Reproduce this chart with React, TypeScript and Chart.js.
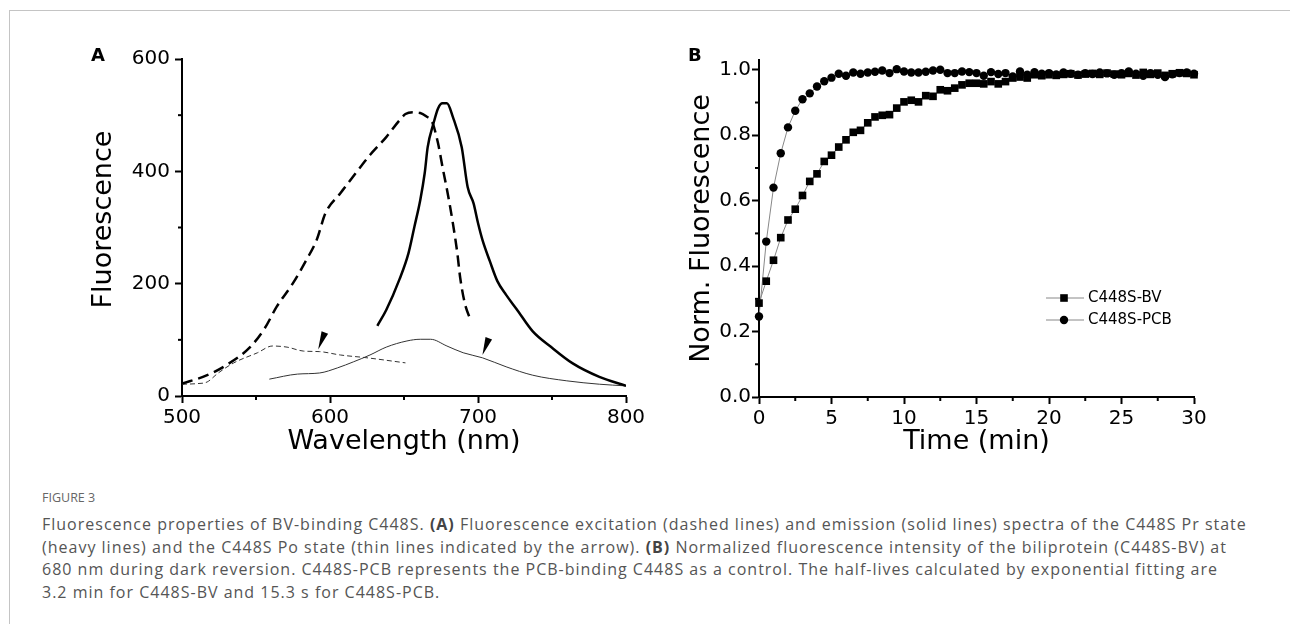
import React, { useEffect, useRef } from 'react';
import { Chart, registerables } from 'chart.js';

Chart.register(...registerables);

const FONT = '"DejaVu Sans", sans-serif';

// ---------- Panel A : spectra ----------
const EX_PR_NM = [500, 517, 530, 546, 556, 564, 575, 584, 591, 597, 607, 618, 627, 638, 647, 651, 656, 661, 665, 669, 673, 676, 680, 683, 686, 688, 691, 695];
const EX_PR_VAL = [22, 37, 55, 87, 121, 159, 201, 242, 278, 326, 361, 399, 429, 461, 491, 502, 505, 504, 498, 488, 450, 408, 354, 308, 255, 210, 166, 135];

const EM_PR_NM = [632, 638, 647, 653, 657, 661, 664, 666, 670, 673, 676, 679, 683, 689, 693, 697, 700, 703, 708, 713, 719, 726, 737, 749, 764, 782, 800];
const EM_PR_VAL = [125, 153, 208, 254, 301, 349, 397, 443, 486, 512, 521, 521, 497, 443, 372, 343, 308, 278, 240, 205, 180, 155, 115, 88, 58, 34, 18];

const EX_PO_NM = [500, 510, 517, 524, 535, 551, 561, 571, 582, 593, 607, 625, 651];
const EX_PO_VAL = [21, 22, 25, 40, 59, 77, 89, 87, 80, 79, 73, 68, 59];

const EM_PO_NM = [559, 578, 593, 605, 616, 627, 638, 652, 661, 668, 679, 690, 703, 719, 737, 760, 782, 800];
const EM_PO_VAL = [30, 39, 41, 50, 61, 73, 87, 98, 101, 101, 89, 77, 68, 52, 37, 27, 21, 18];

// arrow heads (tip and base centre) in data units
const ARROW_TIP_NM = [592, 703];
const ARROW_TIP_VAL = [83, 73];
const ARROW_BASE_NM = [596.5, 707.3];
const ARROW_BASE_VAL = [113, 103];

const A_X_MAJOR = [500, 600, 700, 800];
const A_X_MINOR = [550, 650, 750];
const A_Y_MAJOR = [0, 200, 400, 600];
const A_Y_MINOR = [100, 300, 500];

// ---------- Panel B : kinetics ----------
const B_TIME = [0, 0.5, 1, 1.5, 2, 2.5, 3, 3.5, 4, 4.5, 5, 5.5, 6, 6.5, 7, 7.5, 8, 8.5, 9, 9.5, 10, 10.5, 11, 11.5, 12, 12.5, 13, 13.5, 14, 14.5, 15, 15.5, 16, 16.5, 17, 17.5, 18, 18.5, 19, 19.5, 20, 20.5, 21, 21.5, 22, 22.5, 23, 23.5, 24, 24.5, 25, 25.5, 26, 26.5, 27, 27.5, 28, 28.5, 29, 29.5, 30];
const B_BV = [0.287, 0.354, 0.418, 0.487, 0.541, 0.574, 0.616, 0.659, 0.682, 0.72, 0.739, 0.764, 0.786, 0.809, 0.815, 0.838, 0.856, 0.861, 0.863, 0.883, 0.902, 0.907, 0.902, 0.921, 0.919, 0.939, 0.936, 0.944, 0.954, 0.959, 0.959, 0.957, 0.964, 0.957, 0.964, 0.975, 0.978, 0.975, 0.985, 0.982, 0.985, 0.983, 0.986, 0.988, 0.984, 0.987, 0.989, 0.986, 0.99, 0.987, 0.985, 0.989, 0.984, 0.992, 0.986, 0.99, 0.983, 0.988, 0.991, 0.989, 0.985];
const B_PCB = [0.246, 0.475, 0.64, 0.745, 0.824, 0.875, 0.91, 0.928, 0.949, 0.965, 0.976, 0.988, 0.982, 0.992, 0.988, 0.992, 0.994, 0.998, 0.99, 1.002, 0.995, 0.992, 0.992, 0.994, 0.998, 1.0, 0.99, 0.99, 0.995, 0.993, 0.99, 0.982, 0.993, 0.987, 0.99, 0.98, 0.995, 0.985, 0.993, 0.988, 0.99, 0.986, 0.992, 0.988, 0.985, 0.99, 0.987, 0.992, 0.989, 0.985, 0.99, 0.995, 0.988, 0.982, 0.99, 0.985, 0.978, 0.986, 0.99, 0.992, 0.988];
const B_LABELS = ['C448S-BV', 'C448S-PCB'];

const B_X_MAJOR = [0, 5, 10, 15, 20, 25, 30];
const B_X_MINOR = [2.5, 7.5, 12.5, 17.5, 22.5, 27.5];
const B_Y_MAJOR = [0, 0.2, 0.4, 0.6, 0.8, 1.0];
const B_Y_MINOR = [0.1, 0.3, 0.5, 0.7, 0.9];

const pts = (xs: number[], ys: number[]) => xs.map((x, i) => ({ x, y: ys[i] }));

const minorTicksPlugin = {
  id: 'minorTicks',
  afterDraw(chart: any, _a: any, opts: any) {
    const { ctx, chartArea } = chart;
    const xs = chart.scales.x;
    const ys = chart.scales.y;
    ctx.save();
    ctx.strokeStyle = '#000';
    ctx.lineWidth = 2;
    (opts.x || []).forEach((v: number) => {
      const p = xs.getPixelForValue(v);
      ctx.beginPath();
      ctx.moveTo(p, chartArea.bottom);
      ctx.lineTo(p, chartArea.bottom + 4);
      ctx.stroke();
    });
    (opts.y || []).forEach((v: number) => {
      const p = ys.getPixelForValue(v);
      ctx.beginPath();
      ctx.moveTo(chartArea.left, p);
      ctx.lineTo(chartArea.left - 4, p);
      ctx.stroke();
    });
    ctx.restore();
  },
};

// y-axis title drawn a little above the axis centre, as in the figure
const yTitlePlugin = {
  id: 'yTitle',
  afterDraw(chart: any, _a: any, opts: any) {
    if (!opts || !opts.text) return;
    const { ctx, chartArea } = chart;
    ctx.save();
    ctx.translate(opts.x, (chartArea.top + chartArea.bottom) / 2 + opts.dy);
    ctx.rotate(-Math.PI / 2);
    ctx.font = `27px ${FONT}`;
    ctx.fillStyle = '#000';
    ctx.textAlign = 'center';
    ctx.textBaseline = 'middle';
    ctx.fillText(opts.text, 0, 0);
    ctx.restore();
  },
};

const arrowPlugin = {
  id: 'arrows',
  afterDatasetsDraw(chart: any, _a: any, opts: any) {
    if (!opts || !opts.show) return;
    const { ctx } = chart;
    const xs = chart.scales.x;
    const ys = chart.scales.y;
    ctx.save();
    ctx.fillStyle = '#000';
    ARROW_TIP_NM.forEach((_, i) => {
      const tx = xs.getPixelForValue(ARROW_TIP_NM[i]);
      const ty = ys.getPixelForValue(ARROW_TIP_VAL[i]);
      const bx = xs.getPixelForValue(ARROW_BASE_NM[i]);
      const by = ys.getPixelForValue(ARROW_BASE_VAL[i]);
      const dx = bx - tx;
      const dy = by - ty;
      const len = Math.hypot(dx, dy) || 1;
      const nx = -dy / len;
      const ny = dx / len;
      const hw = 3.5;
      ctx.beginPath();
      ctx.moveTo(tx, ty);
      ctx.lineTo(bx + nx * hw, by + ny * hw);
      ctx.lineTo(bx - nx * hw, by - ny * hw);
      ctx.closePath();
      ctx.fill();
    });
    ctx.restore();
  },
};

const legendPlugin = {
  id: 'insetLegend',
  afterDraw(chart: any, _a: any, opts: any) {
    if (!opts || !opts.show) return;
    const { ctx, chartArea } = chart;
    ctx.save();
    const x0 = chartArea.left + 287;
    const rows = [chartArea.top + 238, chartArea.top + 260];
    B_LABELS.forEach((label, i) => {
      const y = rows[i];
      ctx.strokeStyle = '#888';
      ctx.lineWidth = 1;
      ctx.beginPath();
      ctx.moveTo(x0, y);
      ctx.lineTo(x0 + 38, y);
      ctx.stroke();
      ctx.fillStyle = '#000';
      if (i === 0) {
        ctx.fillRect(x0 + 18 - 3.8, y - 3.8, 7.6, 7.6);
      } else {
        ctx.beginPath();
        ctx.arc(x0 + 18, y, 4.2, 0, Math.PI * 2);
        ctx.fill();
      }
      ctx.font = `15px ${FONT}`;
      ctx.textBaseline = 'middle';
      ctx.textAlign = 'left';
      ctx.fillText(label, x0 + 42, y);
    });
    ctx.restore();
  },
};

const tickFont = { family: FONT, size: 20, lineHeight: 1.2 };
const titleFont = { family: FONT, size: 27, lineHeight: 1.2 };

function axis(opts: any) {
  return {
    type: 'linear',
    min: opts.min,
    max: opts.max,
    afterBuildTicks: (s: any) => {
      s.ticks = opts.major.map((v: number) => ({ value: v }));
    },
    afterFit: (s: any) => {
      if (opts.width != null) s.width = opts.width;
      if (opts.height != null) s.height = opts.height;
    },
    ticks: {
      autoSkip: false,
      maxRotation: 0,
      color: '#000',
      font: tickFont,
      padding: opts.tickPadding,
      callback: opts.fmt,
    },
    grid: {
      display: true,
      drawOnChartArea: false,
      drawTicks: true,
      tickLength: 7,
      tickWidth: 2,
      tickColor: '#000',
    },
    border: { display: true, color: '#000', width: 2 },
    title: {
      display: !!opts.title,
      text: opts.title || '',
      color: '#000',
      font: titleFont,
      padding: opts.titlePadding || 0,
    },
  };
}

function PanelA() {
  const ref = useRef<HTMLCanvasElement>(null);
  useEffect(() => {
    const chart = new Chart(ref.current as HTMLCanvasElement, {
      type: 'line',
      data: {
        datasets: [
          { data: pts(EX_PR_NM, EX_PR_VAL), borderColor: '#000', borderWidth: 2.5, borderDash: [11, 6], pointRadius: 0, cubicInterpolationMode: 'monotone' },
          { data: pts(EM_PR_NM, EM_PR_VAL), borderColor: '#000', borderWidth: 2.5, pointRadius: 0, cubicInterpolationMode: 'monotone' },
          { data: pts(EX_PO_NM, EX_PO_VAL), borderColor: '#333', borderWidth: 1, borderDash: [5, 3], pointRadius: 0, cubicInterpolationMode: 'monotone' },
          { data: pts(EM_PO_NM, EM_PO_VAL), borderColor: '#333', borderWidth: 1, pointRadius: 0, cubicInterpolationMode: 'monotone' },
        ],
      } as any,
      options: {
        responsive: false,
        animation: false,
        devicePixelRatio: 1,
        layout: { padding: { left: 0, top: 29, right: 34, bottom: 0 } },
        plugins: {
          legend: { display: false },
          tooltip: { enabled: false },
          minorTicks: { x: A_X_MINOR, y: A_Y_MINOR },
          arrows: { show: true },
          yTitle: { text: 'Fluorescence', x: 63.5, dy: -8 },
        } as any,
        scales: {
          x: axis({ min: 500, max: 800, major: A_X_MAJOR, height: 74, tickPadding: 3, fmt: (v: any) => String(v), title: 'Wavelength (nm)', titlePadding: { top: 0, bottom: 12 } }),
          y: axis({ min: 0, max: 600, major: A_Y_MAJOR, width: 142, tickPadding: 5, fmt: (v: any) => String(v) }),
        } as any,
      },
      plugins: [minorTicksPlugin, arrowPlugin, yTitlePlugin],
    });
    return () => chart.destroy();
  }, []);
  return <canvas ref={ref} width={620} height={440} style={{ position: 'absolute', left: 40, top: 30, width: 620, height: 440 }} />;
}

function PanelB() {
  const ref = useRef<HTMLCanvasElement>(null);
  useEffect(() => {
    const chart = new Chart(ref.current as HTMLCanvasElement, {
      type: 'line',
      data: {
        datasets: [
          { label: B_LABELS[0], data: pts(B_TIME, B_BV), borderColor: '#888', borderWidth: 1, pointStyle: 'rect', pointRadius: 5.4, pointBackgroundColor: '#000', pointBorderColor: '#000', pointBorderWidth: 0, tension: 0, clip: false },
          { label: B_LABELS[1], data: pts(B_TIME, B_PCB), borderColor: '#888', borderWidth: 1, pointStyle: 'circle', pointRadius: 4.2, pointBackgroundColor: '#000', pointBorderColor: '#000', pointBorderWidth: 0, tension: 0, clip: false },
        ],
      } as any,
      options: {
        responsive: false,
        animation: false,
        devicePixelRatio: 1,
        layout: { padding: { left: 0, top: 30, right: 66, bottom: 0 } },
        plugins: {
          legend: { display: false },
          tooltip: { enabled: false },
          minorTicks: { x: B_X_MINOR, y: B_Y_MINOR },
          insetLegend: { show: true },
        } as any,
        scales: {
          x: axis({ min: 0, max: 30, major: B_X_MAJOR, height: 73, tickPadding: 3, fmt: (v: any) => String(v), title: 'Time (min)', titlePadding: { top: 0, bottom: 12 } }),
          y: axis({ min: 0, max: 1.03, major: B_Y_MAJOR, width: 99, tickPadding: 1, fmt: (v: any) => Number(v).toFixed(1), title: 'Norm. Fluorescence', titlePadding: { top: 26, bottom: 0 } }),
        } as any,
      },
      plugins: [minorTicksPlugin, legendPlugin],
    });
    return () => chart.destroy();
  }, []);
  return <canvas ref={ref} width={600} height={440} style={{ position: 'absolute', left: 660, top: 30, width: 600, height: 440 }} />;
}

const capStyle: React.CSSProperties = {
  position: 'absolute',
  left: 42,
  top: 513,
  fontFamily: '"Open Sans", sans-serif',
  fontSize: 16,
  letterSpacing: '1px',
  lineHeight: '22.7px',
  color: '#555',
  whiteSpace: 'nowrap',
};

export default function App() {
  return (
    <div style={{ position: 'absolute', left: 0, top: 0, width: 1290, height: 624, background: '#fff', overflow: 'hidden' }}>
      <div style={{ position: 'absolute', left: 9, top: 10, width: 1400, height: 800, borderTop: '1px solid #c4c4c4', borderLeft: '1px solid #c4c4c4' }} />
      <PanelA />
      <PanelB />
      <div style={{ position: 'absolute', left: 91, top: 45.5, font: `bold 18px ${FONT}`, lineHeight: '18px', color: '#000' }}>A</div>
      <div style={{ position: 'absolute', left: 688, top: 45.5, font: `bold 18px ${FONT}`, lineHeight: '18px', color: '#000' }}>B</div>
      <div style={{ position: 'absolute', left: 42, top: 490, fontFamily: '"Open Sans", sans-serif', fontSize: 12.5, lineHeight: '16px', color: '#666', whiteSpace: 'nowrap' }}>FIGURE 3</div>
      <div style={capStyle}>
        Fluorescence properties of BV-binding C448S. <b style={{ color: '#444' }}>(A)</b> Fluorescence excitation (dashed lines) and emission (solid lines) spectra of the C448S Pr state
        <br />
        (heavy lines) and the C448S Po state (thin lines indicated by the arrow). <b style={{ color: '#444' }}>(B)</b> Normalized fluorescence intensity of the biliprotein (C448S-BV) at
        <br />
        680 nm during dark reversion. C448S-PCB represents the PCB-binding C448S as a control. The half-lives calculated by exponential fitting are
        <br />
        3.2 min for C448S-BV and 15.3 s for C448S-PCB.
      </div>
    </div>
  );
}
